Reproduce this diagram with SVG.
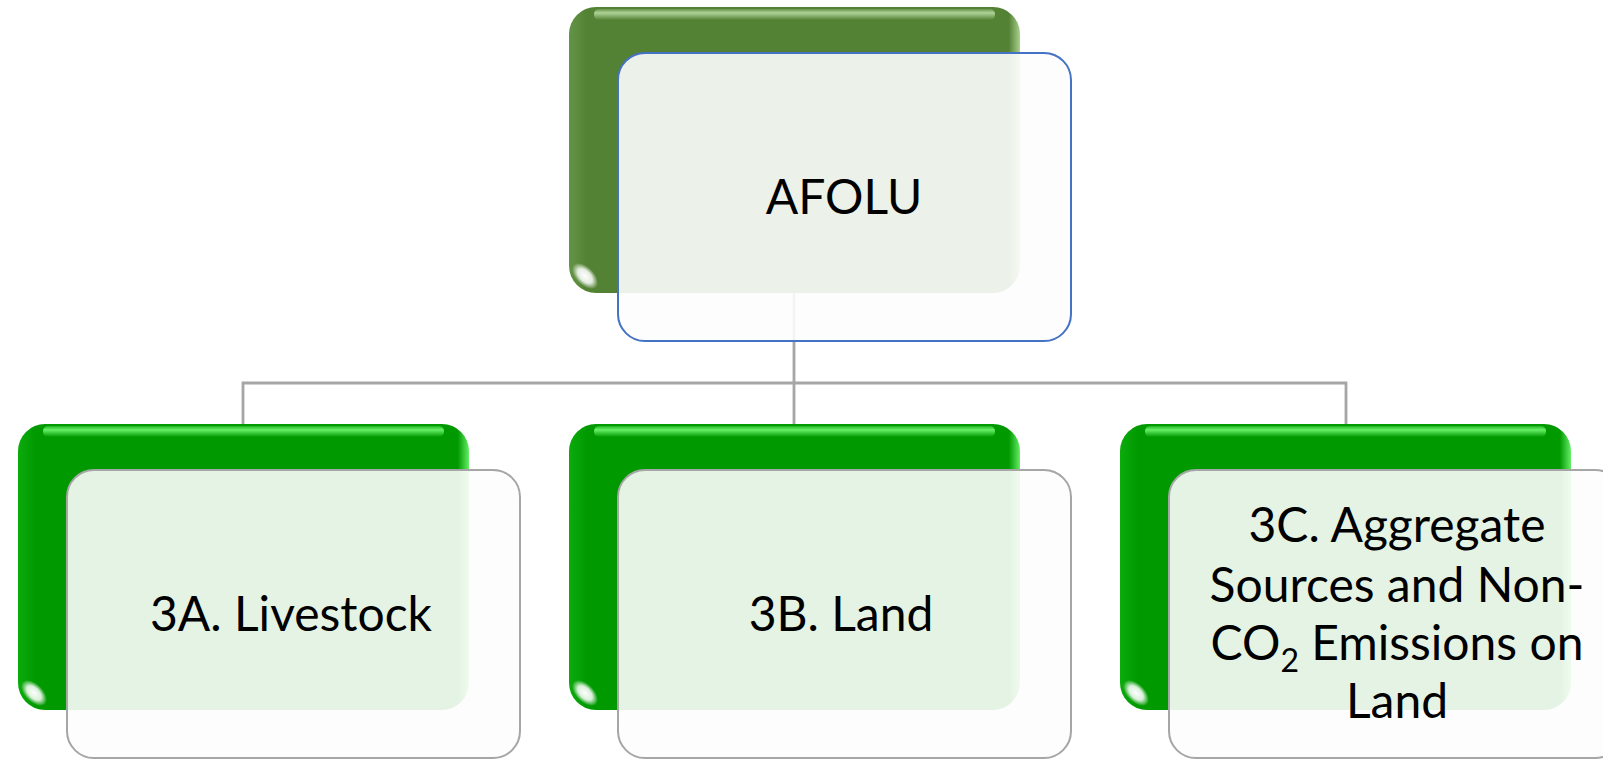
<svg xmlns="http://www.w3.org/2000/svg" width="1603" height="760" viewBox="0 0 1603 760">
<defs>
  <linearGradient id="gTop" x1="0" y1="0" x2="1" y2="0">
    <stop offset="0" stop-color="#639446"/>
    <stop offset="0.04" stop-color="#548235"/>
    <stop offset="0.975" stop-color="#548235"/>
    <stop offset="1" stop-color="#a9d18e"/>
  </linearGradient>
  <linearGradient id="gBot" x1="0" y1="0" x2="1" y2="0">
    <stop offset="0" stop-color="#0cab0c"/>
    <stop offset="0.04" stop-color="#009900"/>
    <stop offset="0.975" stop-color="#009900"/>
    <stop offset="1" stop-color="#66ee66"/>
  </linearGradient>
  <linearGradient id="hlTop" x1="0" y1="0" x2="0" y2="1">
    <stop offset="0" stop-color="#b9dca2" stop-opacity="0.2"/>
    <stop offset="0.35" stop-color="#b9dca2" stop-opacity="0.9"/>
    <stop offset="1" stop-color="#b9dca2" stop-opacity="0"/>
  </linearGradient>
  <linearGradient id="hlBot" x1="0" y1="0" x2="0" y2="1">
    <stop offset="0" stop-color="#6cf56c" stop-opacity="0.3"/>
    <stop offset="0.35" stop-color="#6cf56c" stop-opacity="0.95"/>
    <stop offset="1" stop-color="#6cf56c" stop-opacity="0"/>
  </linearGradient>
  <radialGradient id="glint">
    <stop offset="0" stop-color="#ffffff" stop-opacity="1"/>
    <stop offset="0.55" stop-color="#ffffff" stop-opacity="0.85"/>
    <stop offset="1" stop-color="#ffffff" stop-opacity="0"/>
  </radialGradient>
  <style>
    .card { fill: #fdfdfd; fill-opacity: 0.9; stroke-width: 2; }
    .cardTop { stroke: #4472c4; }
    .cardBot { stroke: #a6a6a6; }
    .conn { fill: none; stroke: #a6a6a6; stroke-width: 2.8; }
    .lbl { font-family: Lato, "Liberation Sans", sans-serif; font-size: 48px; fill: #000; text-anchor: middle; }
  </style>
</defs>

<g id="connectors">
  <path class="conn" d="M794 293 V424"/>
  <path class="conn" d="M243 424 V383 H1346 V424"/>
</g>

<g id="node-afolu">
  <rect x="569" y="7" width="451" height="286" rx="27" fill="url(#gTop)"/>
  <rect x="594" y="9" width="401" height="11" rx="5" fill="url(#hlTop)"/>
  <ellipse cx="585" cy="276" rx="16" ry="9" transform="rotate(45 585 276)" fill="url(#glint)"/>
  <rect class="card cardTop" x="618" y="53" width="453" height="288" rx="27"/>
  <text class="lbl" x="844" y="214">AFOLU</text>
</g>

<g id="node-3a">
  <rect x="18" y="424" width="451" height="286" rx="27" fill="url(#gBot)"/>
  <rect x="43" y="426" width="401" height="11" rx="5" fill="url(#hlBot)"/>
  <ellipse cx="34" cy="693" rx="16" ry="9" transform="rotate(45 34 693)" fill="url(#glint)"/>
  <rect class="card cardBot" x="67" y="470" width="453" height="288" rx="27"/>
  <text class="lbl" x="291" y="631">3A. Livestock</text>
</g>

<g id="node-3b">
  <rect x="569" y="424" width="451" height="286" rx="27" fill="url(#gBot)"/>
  <rect x="594" y="426" width="401" height="11" rx="5" fill="url(#hlBot)"/>
  <ellipse cx="585" cy="693" rx="16" ry="9" transform="rotate(45 585 693)" fill="url(#glint)"/>
  <rect class="card cardBot" x="618" y="470" width="453" height="288" rx="27"/>
  <text class="lbl" x="841" y="631">3B. Land</text>
</g>

<g id="node-3c">
  <rect x="1120" y="424" width="451" height="286" rx="27" fill="url(#gBot)"/>
  <rect x="1145" y="426" width="401" height="11" rx="5" fill="url(#hlBot)"/>
  <ellipse cx="1136" cy="693" rx="16" ry="9" transform="rotate(45 1136 693)" fill="url(#glint)"/>
  <rect class="card cardBot" x="1169" y="470" width="453" height="288" rx="27"/>
  <text class="lbl" x="1397" y="542">3C. Aggregate</text>
  <text class="lbl" x="1397" y="602">Sources and Non-</text>
  <text class="lbl" x="1397" y="660">CO<tspan font-size="32" dy="12">2</tspan><tspan dy="-12"> Emissions on</tspan></text>
  <text class="lbl" x="1397" y="718">Land</text>
</g>
</svg>
